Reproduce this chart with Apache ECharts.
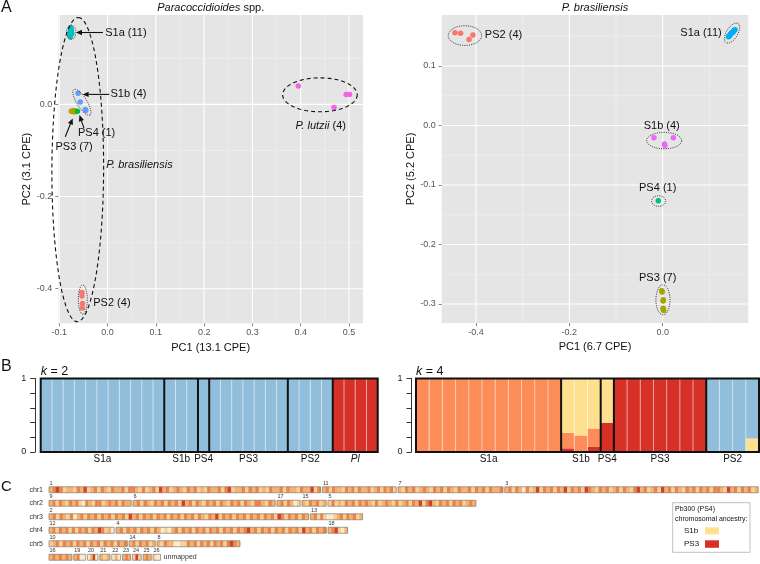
<!DOCTYPE html>
<html><head><meta charset="utf-8">
<script src="https://cdn.jsdelivr.net/npm/echarts@6.0.0/dist/echarts.min.js"></script>
<style>html,body{margin:0;padding:0;background:#fff;}#main{width:760px;height:564px;}</style>
</head><body><div id="main"></div>
<script>
// ================= DATA =================
// Panel A (left): Paracoccidioides spp. PCA
const allS1a = [[-0.077,0.147],[-0.078,0.150],[-0.076,0.152],[-0.077,0.155],[-0.075,0.157],[-0.076,0.159],[-0.075,0.161],[-0.076,0.163],[-0.077,0.158],[-0.074,0.154],[-0.076,0.165]];
const allS1b = [[-0.061,0.024],[-0.0565,0.005],[-0.046,-0.011],[-0.045,-0.013]];
const allPS4 = [[-0.0625,-0.015]];
const allPS3 = [[-0.075,-0.015],[-0.073,-0.015],[-0.072,-0.014],[-0.071,-0.016],[-0.069,-0.015],[-0.068,-0.014],[-0.067,-0.016]];
const allPS2 = [[-0.053,-0.408],[-0.053,-0.416],[-0.052,-0.432],[-0.052,-0.442]];
const allPl  = [[0.395,0.040],[0.469,-0.0065],[0.494,0.0217],[0.501,0.0217]];
const allXTicks = [-0.1,0,0.1,0.2,0.3,0.4,0.5];
const allXMinor = [-0.05,0.05,0.15,0.25,0.35,0.45];
const allYTicks = [-0.4,-0.2,0];
const allYMinor = [-0.3,-0.1,0.1];

// Panel A (right): P. brasiliensis PCA
const brPS2 = [[-0.445,0.156],[-0.433,0.155],[-0.415,0.1445],[-0.4066,0.152]];
const brS1a = [[0.141,0.149],[0.142,0.150],[0.143,0.151],[0.145,0.153],[0.146,0.154],[0.147,0.155],[0.149,0.156],[0.150,0.157],[0.152,0.158],[0.153,0.160],[0.155,0.161]];
const brS1b = [[-0.0187,-0.0207],[0.004,-0.031],[0.005,-0.034],[0.0228,-0.0207]];
const brPS4 = [[-0.0094,-0.1266]];
const brPS3 = [[-0.002,-0.278],[-0.001,-0.280],[0.0014,-0.293],[0.001,-0.295],[0.0014,-0.309],[0.002,-0.311],[0.001,-0.307]];
const brXTicks = [-0.4,-0.2,0];
const brXMinor = [-0.3,-0.1,0.1];
const brYTicks = [-0.3,-0.2,-0.1,0,0.1];
const brYMinor = [-0.25,-0.15,-0.05,0.05,0.15];

// Panel B: STRUCTURE ancestry proportions
const k2Groups = ['S1a','S1b','PS4','PS3','PS2','Pl'];
const k2GroupSizes = [11,3,1,7,4,4];
const k2Blue = [1,1,1,1,1,1,1,1,1,1,1, 1,1,1, 1, 1,1,1,1,1,1,1, 1,1,1,1, 0,0,0,0];
const k2Red  = [0,0,0,0,0,0,0,0,0,0,0, 0,0,0, 0, 0,0,0,0,0,0,0, 0,0,0,0, 1,1,1,1];
const k4Groups = ['S1a','S1b','PS4','PS3','PS2'];
const k4GroupSizes = [11,3,1,7,4];
const k4Red    = [0,0,0,0,0,0,0,0,0,0,0, 0.05,0,0.068, 0.396, 1,1,1,1,1,1,1, 0,0,0,0];
const k4Orange = [1,1,1,1,1,1,1,1,1,1,1, 0.21,0.225,0.252, 0, 0,0,0,0,0,0,0, 0,0,0,0];
const k4Yellow = [0,0,0,0,0,0,0,0,0,0,0, 0.74,0.775,0.68, 0.604, 0,0,0,0,0,0,0, 0,0,0,0.185];
const k4Blue   = [0,0,0,0,0,0,0,0,0,0,0, 0,0,0, 0, 0,0,0,0,0,0,0, 1,1,1,0.815];

// Panel C: Pb300 chromosomal ancestry (contig lengths in Mb, stripes 0=pale .. 4=PS3-like)
const chromRows = ['chr1','chr2','chr3','chr4','chr5',''];
const contigNames = [['1','11','7','3'],['9','6','17','15','5'],['2','13'],['12','4','18'],['10','14','8'],['16','19','20','21','22','23','24','25','26']];
const contigLens  = [[3.906,1.08,1.524,3.647],[1.2,2.057,0.357,0.371,2.139],[3.734,0.771],[0.957,3.029,0.306],[1.143,0.4,1.21],[0.353,0.196,0.176,0.171,0.153,0.143,0.151,0.143,0.134]];
const contigStripes = {
 '1':"2343122132412313213223133213123142312321323121322313412231323121322313221322413",
 '11':"23132213231322312313231",
 '7':"213231232132313213223132313223",
 '3':"2313203124132313241323143213231231321342312314231321323132313321423132312",
 '9':"2313213231032133123231322",
 '6':"23132132313231423132132313213231321332132",
 '17':"2313201",
 '15':"2132312",
 '5':"13121323132321312321312313241342132313231232",
 '2':"231321302313231323132314231323132313231323132132413231323132313231431323132",
 '13':"2313100123132312",
 '12':"23132313132313243120",
 '4':"2313231323132010231323132313231323132342313231323132314231323",
 '18':"234102",
 '10':"12313231323132313231323",
 '14':"23132312",
 '8':"2132200113231323132313432",
 '16':"2323232",
 '19':"2300",
 '20':"0240",
 '21':"212",
 '22':"020",
 '23':"232",
 '24':"141",
 '25':"232",
 '26':"100"
};

// ================= STYLE =================
const FONT = "'Liberation Sans', Arial, Helvetica, sans-serif";
const BLUE='#91BFDB', RED='#D73027', ORANGE='#FC8D59', YELLOW='#FEE090';
const stripeColors = ['#FDEBD0','#FAD097','#F5B26C','#EB8446','#D63E26'];

// annotation layouts (data coordinates)
const ellAll = [
  [-0.0752,0.1564,-0.0752,0.172,0.65,0],
  [-0.053,0.0046,-0.0364,-0.0232,0.33,0],
  [-0.0513,-0.4234,-0.0513,-0.4549,0.31,0],
  [-0.0617,-0.1414,-0.0607,0.1887,0.17,1],
  [0.4398,0.0208,0.517,0.0208,0.456,1]
];
const ellBr = [
  [-0.4238,0.1511,-0.388,0.1511,0.59,0],
  [0.1486,0.1553,0.1614,0.1713,0.5,0],
  [0.0032,-0.0254,0.0407,-0.0254,0.47,0],
  [-0.0086,-0.127,0.0064,-0.127,0.76,0],
  [0.0006,-0.293,0.0006,-0.3182,0.47,0]
];
const arrowsAll = [[-0.0095,0.156,-0.0654,0.156],[0.0035,0.0217,-0.0516,0.0217],[-0.0489,-0.0514,-0.0582,-0.0232],[-0.0876,-0.0703,-0.0723,-0.0304]];
const labelsAll = [
 {x:-0.0048,y:0.156,t:'S1a (11)',a:'left'},
 {x:0.006,y:0.0217,t:'S1b (4)',a:'left'},
 {x:-0.0226,y:-0.0616,t:'PS4 (1)',a:'center'},
 {x:-0.0692,y:-0.092,t:'PS3 (7)',a:'center'},
 {x:0.066,y:-0.1317,t:'{i|P. brasiliensis}',a:'center'},
 {x:-0.0296,y:-0.4304,t:'PS2 (4)',a:'left'},
 {x:0.4414,y:-0.047,t:'{i|P. lutzii} (4)',a:'center'}
];
const labelsBr = [
 {x:-0.381,y:0.1524,t:'PS2 (4)',a:'left'},
 {x:0.1265,y:0.1553,t:'S1a (11)',a:'right'},
 {x:-0.002,y:-0.0005,t:'S1b (4)',a:'center'},
 {x:-0.0107,y:-0.105,t:'PS4 (1)',a:'center'},
 {x:-0.0107,y:-0.2565,t:'PS3 (7)',a:'center'}
];

// ================= HELPERS =================
function fmt1(v){ return (Math.round(v*10)/10 + 0).toFixed(1); }
function pcaAxis(dim, gridIndex, min, max, majors, name, nameGap){
  return {
    type:'value', gridIndex, min, max, z:2,
    name, nameLocation:'middle', nameGap,
    nameTextStyle:{fontSize:11, color:'#111', fontFamily:FONT},
    axisLine:{show:false, onZero:false},
    axisTick:{show:true, length:3, lineStyle:{color:'#666', width:0.8}, customValues:majors},
    axisLabel:{show:true, fontSize:9, color:'#555', fontFamily:FONT, margin: dim==='x'?5:6, customValues:majors, formatter: fmt1},
    splitLine:{show:false}, minorTick:{show:false}, minorSplitLine:{show:false}
  };
}
// panel grid lines drawn through the axes' scales
function gridLineSeries(axisIdx, xMaj, xMin, yMaj, yMin, xr, yr){
  const d = [];
  xMin.forEach(v=>d.push([v, yr[0], 0, 0]));
  yMin.forEach(v=>d.push([xr[0], v, 1, 0]));
  xMaj.forEach(v=>d.push([v, yr[0], 0, 1]));
  yMaj.forEach(v=>d.push([xr[0], v, 1, 1]));
  return {type:'custom', xAxisIndex:axisIdx, yAxisIndex:axisIdx, data:d, z:1, silent:true, clip:true,
    renderItem:(p, api)=>{
      const horiz = api.value(2) === 1, major = api.value(3) === 1;
      let a, b;
      if (horiz){ a = api.coord([xr[0], api.value(1)]); b = api.coord([xr[1], api.value(1)]); }
      else { a = api.coord([api.value(0), yr[0]]); b = api.coord([api.value(0), yr[1]]); }
      return {type:'line', shape:{x1:a[0], y1:a[1], x2:b[0], y2:b[1]},
        style:{stroke: major ? '#FFFFFF' : '#F2F2F2', lineWidth: major ? 1.1 : 0.6}};
    }};
}
function renderEllipse(params, api){
  const c = api.coord([api.value(0), api.value(1)]);
  const e = api.coord([api.value(2), api.value(3)]);
  const dx = e[0]-c[0], dy = e[1]-c[1];
  const a = Math.hypot(dx,dy), b = a*api.value(4), th = Math.atan2(dy,dx);
  const pts = [];
  for (let k=0;k<=96;k++){
    const t = k/96*2*Math.PI, ux = a*Math.cos(t), uy = b*Math.sin(t);
    pts.push([c[0]+ux*Math.cos(th)-uy*Math.sin(th), c[1]+ux*Math.sin(th)+uy*Math.cos(th)]);
  }
  const dashed = api.value(5) === 1;
  return {type:'polyline', shape:{points:pts}, style:{stroke:'#111', fill:null, lineWidth: dashed?1.1:0.9, lineDash: dashed?[4,3]:[1,1.3]}};
}
function renderArrow(params, api){
  const a = api.coord([api.value(0), api.value(1)]);
  const b = api.coord([api.value(2), api.value(3)]);
  const ang = Math.atan2(b[1]-a[1], b[0]-a[0]);
  const L = 6, W = 2.7;
  const base = [b[0]-L*Math.cos(ang), b[1]-L*Math.sin(ang)];
  const l = [base[0]+W*Math.sin(ang), base[1]-W*Math.cos(ang)];
  const r = [base[0]-W*Math.sin(ang), base[1]+W*Math.cos(ang)];
  return {type:'group', children:[
    {type:'line', shape:{x1:a[0],y1:a[1],x2:base[0],y2:base[1]}, style:{stroke:'#111', lineWidth:1.1}},
    {type:'polygon', shape:{points:[b,l,r]}, style:{fill:'#111'}}
  ]};
}
function labelRenderer(list){
  return function(params, api){
    const L = list[api.value(2)];
    const p = api.coord([L.x, L.y]);
    return {type:'text', style:{text:L.t, x:p[0], y:p[1], fontSize:11, fontFamily:FONT, fill:'#111',
      align:L.a, verticalAlign:'middle',
      rich:{i:{fontStyle:'italic', fontSize:11, fontFamily:FONT, fill:'#111'}}}};
  };
}
function scatterSeries(name, data, color, axisIdx){
  return {type:'scatter', name, data, xAxisIndex:axisIdx, yAxisIndex:axisIdx, symbolSize:5.5,
    itemStyle:{color, opacity:1}, z:3, silent:true};
}
// Panel B builders
function stackData(clusters){
  const out = [];
  const n = clusters[0].length;
  for (let i=0;i<n;i++){
    let b = 0;
    clusters.forEach((arr,ci)=>{ if (arr[i] > 0){ out.push([i, b, b+arr[i], ci]); b += arr[i]; } });
  }
  return out;
}
function sepData(sizes){
  const out = []; let pos = 0;
  const total = sizes.reduce((s,v)=>s+v,0);
  sizes.forEach((s,gi)=>{
    for (let k=1;k<s;k++) out.push([pos+k, 0, 0]);
    pos += s;
    if (gi < sizes.length-1) out.push([pos, 0, 1]);
  });
  out.push([total, 0, 2]);
  return out;
}
function groupLabelData(sizes){
  const out = []; let pos = 0;
  sizes.forEach((s,gi)=>{ out.push([pos + s/2, 0, gi]); pos += s; });
  return out;
}
function barSeries(axisIdx, clusters, colors, sizes, groups){
  return [
    {type:'custom', xAxisIndex:axisIdx, yAxisIndex:axisIdx, data: stackData(clusters), z:3, silent:true,
     renderItem:(p,api)=>{
       const a = api.coord([api.value(0), api.value(2)]);
       const b = api.coord([api.value(0)+1, api.value(1)]);
       return {type:'rect', shape:{x:a[0], y:a[1], width:b[0]-a[0]+0.4, height:b[1]-a[1]}, style:{fill:colors[api.value(3)]}};
     }},
    {type:'custom', xAxisIndex:axisIdx, yAxisIndex:axisIdx, data: sepData(sizes), z:4, silent:true, clip:false,
     renderItem:(p,api)=>{
       const kind = api.value(2);
       const t = api.coord([api.value(0), 1]);
       const b = api.coord([api.value(0), 0]);
       if (kind === 2){
         const o = api.coord([0,1]);
         return {type:'rect', shape:{x:o[0], y:o[1], width:b[0]-o[0], height:b[1]-o[1]}, style:{fill:null, stroke:'#111', lineWidth:2}};
       }
       return {type:'line', shape:{x1:t[0], y1:t[1], x2:b[0], y2:b[1]},
         style: kind===1 ? {stroke:'#111', lineWidth:2} : {stroke:'rgba(255,255,255,0.55)', lineWidth:1}};
     }},
    {type:'custom', xAxisIndex:axisIdx, yAxisIndex:axisIdx, data: groupLabelData(sizes), z:4, silent:true, clip:false,
     renderItem:(p,api)=>{
       const c = api.coord([api.value(0), 0]);
       const g = groups[api.value(2)];
       return {type:'text', style:{text: g==='Pl' ? '{i|Pl}' : g, x:c[0], y:c[1]+2.5, fontSize:10, fontFamily:FONT, fill:'#111',
         align:'center', verticalAlign:'top', rich:{i:{fontStyle:'italic', fontSize:10, fontFamily:FONT, fill:'#111'}}}};
     }}
  ];
}
function bAxes(gridIndex, n, offset){
  return {
    x: {type:'value', gridIndex, min:0, max:n, show:false},
    y: {type:'value', gridIndex, min:0, max:1, interval:0.2, offset,
      axisLine:{show:true, onZero:false, lineStyle:{color:'#333', width:1}},
      axisTick:{show:true, length:5, lineStyle:{color:'#333', width:1}},
      axisLabel:{fontSize:9, color:'#222', fontFamily:FONT, margin:9, formatter:v=> (v===0||v===1)? String(v) : ''},
      splitLine:{show:false}}
  };
}
// Panel C data items
const contigItems = [], flatNames = [];
contigNames.forEach((row, ri)=>{
  let pos = 0;
  row.forEach((nm, ci)=>{ contigItems.push([pos, ri, contigLens[ri][ci], flatNames.length]); flatNames.push(nm); pos += contigLens[ri][ci]; });
});
function renderContig(params, api){
  const start = api.value(0), row = api.value(1), len = api.value(2), idx = api.value(3);
  const p0 = api.coord([start, row]), p1 = api.coord([start+len, row]);
  const nm = flatNames[idx], s = contigStripes[nm];
  const x0 = p0[0], w = p1[0]-p0[0]-1.8, yc = p0[1], h = 6, y0 = yc - 3;
  const ch = [];
  const sw = w / s.length;
  for (let k=0;k<s.length;k++){
    ch.push({type:'rect', shape:{x:x0+k*sw, y:y0, width:sw+0.25, height:h}, style:{fill:stripeColors[+s[k]]}});
  }
  ch.push({type:'rect', shape:{x:x0, y:y0, width:w, height:h}, style:{fill:null, stroke:'#7d7d7d', lineWidth:0.7}});
  ch.push({type:'text', style:{text:nm, x:x0+0.5, y:y0-0.6, fontSize:5.5, fontFamily:FONT, fill:'#333', align:'left', verticalAlign:'bottom'}});
  if (nm === '26') ch.push({type:'text', style:{text:'unmapped', x:x0+w+3, y:yc, fontSize:7, fontFamily:FONT, fill:'#333', align:'left', verticalAlign:'middle'}});
  return {type:'group', children:ch};
}

// ================= AXES =================
const AX = [-0.102, 0.529], AY = [-0.475, 0.194];
const BX = [-0.4735, 0.1835], BY = [-0.332, 0.1857];
const b2 = bAxes(2, 30, 5.5);
const b4 = bAxes(3, 26, 4.5);
const cX = {type:'value', gridIndex:4, min:0, max:10.157, show:false};
const cY = {type:'category', gridIndex:4, data:chromRows, inverse:true,
  axisLine:{show:false}, axisTick:{show:false}, splitLine:{show:false},
  axisLabel:{fontSize:7, color:'#333', fontFamily:FONT, margin:6}};

const italic = (sz)=>({i:{fontStyle:'italic', fontSize:sz, fontFamily:FONT, fill:'#111'}});
function gtext(x, y, text, size, align){
  return {type:'text', x, y, style:{text, fontSize:size, fontFamily:FONT, fill:'#111',
    align, textAlign:align, verticalAlign:'middle', textVerticalAlign:'middle', rich:italic(size)}};
}

const option = {
  animation:false,
  backgroundColor:'#ffffff',
  textStyle:{fontFamily:FONT},
  grid:[
    {left:58.3, top:15, width:304.7, height:308.3, show:true, backgroundColor:'#E5E5E5', borderWidth:0},
    {left:441.7, top:15, width:306.6, height:308, show:true, backgroundColor:'#E5E5E5', borderWidth:0},
    {left:40.7, top:378.5, width:337, height:73.5},
    {left:416, top:378.5, width:343, height:73.5},
    {left:49, top:483, width:711, height:84}
  ],
  xAxis:[
    pcaAxis('x', 0, AX[0], AX[1], allXTicks, 'PC1 (13.1 CPE)', 15),
    pcaAxis('x', 1, BX[0], BX[1], brXTicks, 'PC1 (6.7 CPE)', 15),
    b2.x, b4.x, cX],
  yAxis:[
    pcaAxis('y', 0, AY[0], AY[1], allYTicks, 'PC2 (3.1 CPE)', 25),
    pcaAxis('y', 1, BY[0], BY[1], brYTicks, 'PC2 (5.2 CPE)', 23),
    b2.y, b4.y, cY],
  series:[
    gridLineSeries(0, allXTicks, allXMinor, allYTicks, allYMinor, AX, AY),
    scatterSeries('S1a', allS1a, '#00BFC4', 0),
    scatterSeries('S1b', allS1b, '#619CFF', 0),
    scatterSeries('PS3', allPS3, '#B79F00', 0),
    scatterSeries('PS4', allPS4, '#00BA38', 0),
    scatterSeries('PS2', allPS2, '#F8766D', 0),
    scatterSeries('P. lutzii', allPl, '#F564E3', 0),
    {type:'custom', xAxisIndex:0, yAxisIndex:0, data:ellAll, renderItem:renderEllipse, z:5, silent:true, clip:false},
    {type:'custom', xAxisIndex:0, yAxisIndex:0, data:arrowsAll, renderItem:renderArrow, z:5, silent:true, clip:false},
    {type:'custom', xAxisIndex:0, yAxisIndex:0, data:labelsAll.map((l,i)=>[l.x,l.y,i]), renderItem:labelRenderer(labelsAll), z:6, silent:true, clip:false},

    gridLineSeries(1, brXTicks, brXMinor, brYTicks, brYMinor, BX, BY),
    scatterSeries('PS2b', brPS2, '#F8766D', 1),
    scatterSeries('S1ab', brS1a, '#00B0F6', 1),
    scatterSeries('S1bb', brS1b, '#E76BF3', 1),
    scatterSeries('PS4b', brPS4, '#00BF7D', 1),
    scatterSeries('PS3b', brPS3, '#A3A500', 1),
    {type:'custom', xAxisIndex:1, yAxisIndex:1, data:ellBr, renderItem:renderEllipse, z:5, silent:true, clip:false},
    {type:'custom', xAxisIndex:1, yAxisIndex:1, data:labelsBr.map((l,i)=>[l.x,l.y,i]), renderItem:labelRenderer(labelsBr), z:6, silent:true, clip:false},

    ...barSeries(2, [k2Red, k2Blue], [RED, BLUE], k2GroupSizes, k2Groups),
    ...barSeries(3, [k4Red, k4Orange, k4Yellow, k4Blue], [RED, ORANGE, YELLOW, BLUE], k4GroupSizes, k4Groups),

    {type:'custom', xAxisIndex:4, yAxisIndex:4, data:contigItems, renderItem:renderContig, z:3, silent:true, clip:false}
  ],
  graphic:[
    gtext(1, 8, 'A', 16, 'left'),
    gtext(210.7, 7.5, '{i|Paracoccidioides} spp.', 11, 'center'),
    gtext(595, 7.5, '{i|P. brasiliensis}', 11, 'center'),
    gtext(1, 367, 'B', 16, 'left'),
    gtext(40.7, 372, '{i|k} = 2', 12.5, 'left'),
    gtext(416, 372, '{i|k} = 4', 12.5, 'left'),
    gtext(1, 487, 'C', 15, 'left'),
    {type:'rect', shape:{x:672.7, y:502.7, width:77.3, height:49.6}, style:{fill:'#fff', stroke:'#b0b0b0', lineWidth:0.8}},
    gtext(675, 509.5, 'Pb300 (PS4)', 7, 'left'),
    gtext(675, 519.3, 'chromosomal ancestry:', 7, 'left'),
    gtext(684, 531, 'S1b', 8, 'left'),
    {type:'rect', shape:{x:705, y:527.3, width:14, height:7}, style:{fill:YELLOW}},
    gtext(684, 544, 'PS3', 8, 'left'),
    {type:'rect', shape:{x:705, y:540.3, width:14, height:7.5}, style:{fill:RED}}
  ]
};
const chart = echarts.init(document.getElementById('main'), null, {renderer:'canvas', width:760, height:564});
chart.setOption(option);
</script>
</body></html>
